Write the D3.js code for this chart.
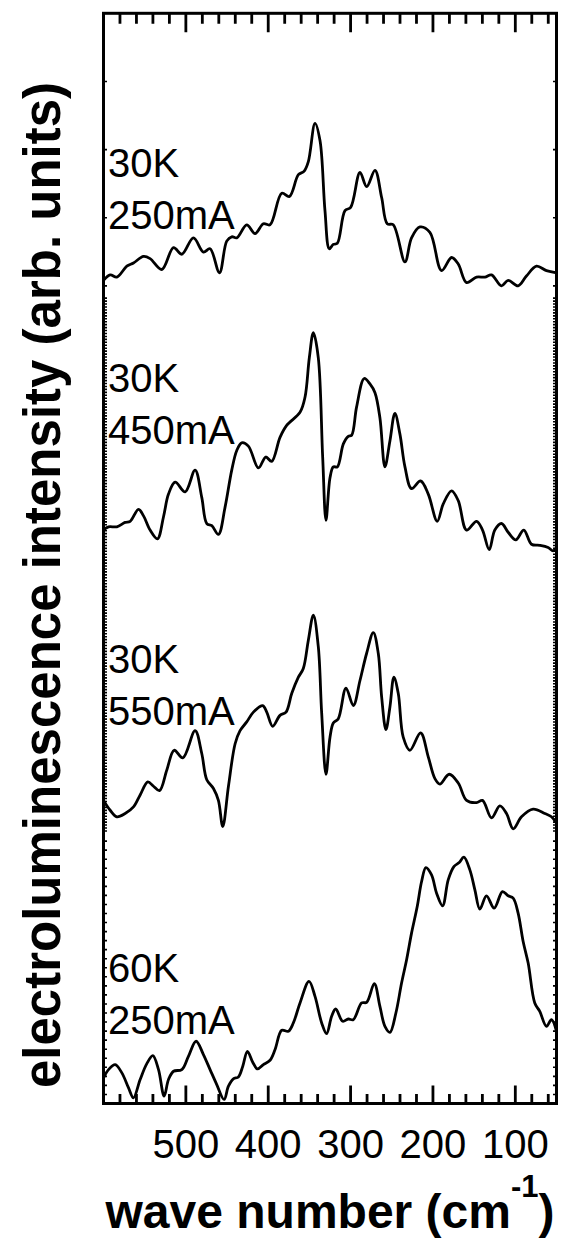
<!DOCTYPE html>
<html>
<head>
<meta charset="utf-8">
<script src="https://cdn.jsdelivr.net/npm/d3@7"></script>
<style>
  html, body { margin: 0; padding: 0; background: #fff; }
  svg { display: block; }
  text { font-family: "Liberation Sans", Arial, Helvetica, sans-serif; }
</style>
</head>
<body>
<svg id="chart" width="565" height="1241"></svg>
<script>
// ---- data (wave number in cm^-1, intensity in stacked arbitrary units) ----
const wn1 = [600,591.9,583.8,571.7,563.6,551.4,543.4,529.2,515.0,504.9,490.8,478.7,470.6,459.2,450.4,444.3,438.2,426.1,416.0,405.9,397.8,383.6,374.3,363.4,356.6,351.3,343.2,337.1,331.1,325.8,321.0,316.1,306.8,299.9,288.6,280.5,270.4,262.3,255.5,248.2,234.0,226.0,215.8,203.7,189.6,177.4,169.3,159.2,147.1,137.0,128.9,116.8,108.7,96.6,86.5,74.3,62.2,50];
const int1 = [75.5,76.0,75.8,76.8,77.1,77.7,77.5,76.5,78.5,77.9,79.4,78.1,78.4,76.2,79.1,79.5,79.4,80.6,79.8,80.7,80.6,83.5,83.2,85.2,85.5,86.4,89.9,88.3,81.9,78.4,78.8,78.9,81.9,82.2,85.4,84.1,85.6,83.1,80.7,80.6,77.2,79.4,80.4,79.9,76.4,77.6,77.0,75.3,75.8,75.8,76.0,75.0,75.5,75.0,75.9,76.8,76.4,76.2];

const wn2 = [600,593.9,583.8,573.7,567.6,557.5,551.4,543.4,534.5,527.2,521.1,513.0,500.9,488.8,480.7,474.6,468.5,460.5,452.4,444.3,438.2,432.2,424.1,411.9,403.0,395.8,385.7,377.6,361.4,355.3,350.1,345.2,339.2,333.9,329.9,325.0,321.0,316.1,308.8,302.8,298.7,292.7,283.4,276.5,270.4,264.4,258.3,252.2,246.2,240.1,234.0,226.0,215.0,205.7,194.8,187.5,177.4,169.3,159.2,147.1,139.8,131.7,124.9,116.8,108.7,99.4,89.7,80.4,70.3,60.2,54.1,50];
const int2 = [52.6,52.9,52.9,53.3,53.4,54.5,53.9,52.6,51.8,53.8,55.9,57.0,56.1,58.1,55.6,53.2,53.0,52.2,54.7,58.1,59.9,60.6,60.3,58.3,59.3,58.9,61.1,62.2,63.4,64.8,68.4,70.7,68.4,59.3,53.5,57.4,58.4,58.4,60.5,61.2,61.3,63.9,66.5,66.0,65.2,62.9,58.4,60.8,63.3,61.4,58.4,56.4,57.1,55.9,53.4,55.0,56.2,55.3,52.6,53.4,52.6,50.8,52.6,53.2,52.4,51.7,52.6,51.3,51.2,51.0,50.7,51.0];

const wn3 = [600,591.9,583.8,573.7,563.6,555.5,546.2,539.3,532.0,523.1,514.2,503.7,488.8,480.7,474.6,466.5,460.5,455.2,448.3,440.2,434.2,426.1,418.0,406.7,401.8,394.6,385.7,378.4,371.5,363.4,357.4,351.3,345.2,339.2,335.1,329.9,325.0,321.0,314.9,305.6,296.7,288.6,280.5,272.4,266.4,262.3,257.1,252.2,247.4,242.1,236.1,228.0,215.0,205.7,197.6,191.6,180.3,169.3,159.2,147.1,139.8,128.9,118.8,110.7,102.6,92.5,78.4,64.2,56.1,50];
const int3 = [27.8,26.9,26.3,26.6,27.2,28.3,29.5,29.1,28.7,30.6,32.4,31.7,34.2,32.1,29.7,28.9,27.8,25.4,29.1,33.0,34.2,35.0,35.9,36.5,35.9,34.6,35.6,35.9,37.6,39.1,39.9,42.5,44.8,41.9,35.8,30.2,33.6,34.9,35.3,38.1,36.5,38.8,41.3,43.2,41.3,37.3,34.3,36.4,39.1,37.6,33.6,32.4,34.0,31.8,29.8,29.3,30.2,29.4,27.8,27.6,27.8,26.2,27.3,26.6,25.2,26.3,27.0,26.6,26.3,25.7];

const wn4 = [600,593.9,585.8,577.7,569.6,563.6,555.5,547.4,540.1,533.2,526.4,521.1,515.0,504.9,496.9,487.6,478.7,470.6,462.5,453.6,448.3,442.3,436.2,430.9,425.3,418.8,413.2,405.9,397.8,391.7,383.6,375.6,369.5,361.4,350.5,343.2,335.1,329.1,323.0,318.1,309.6,302.8,296.7,286.6,280.5,271.2,264.4,258.3,252.2,245.0,238.1,232.0,226.0,219.1,213.8,208.6,201.7,195.6,188.3,181.5,174.6,168.1,162.5,155.2,149.1,143.1,135.0,125.7,115.6,108.7,102.6,96.6,90.5,84.4,76.4,70.3,62.2,56.1,50];
const int4 = [2.35,3.11,3.57,2.81,1.43,0.52,2.20,3.66,4.40,3.11,0.67,2.20,2.96,3.11,4.33,5.71,4.49,3.11,1.74,0.37,1.59,2.26,2.44,3.42,4.79,3.79,3.17,3.57,3.97,4.95,6.72,6.62,7.39,9.22,11.20,9.83,7.39,6.41,8.00,8.67,7.54,7.75,7.69,9.22,9.28,10.99,8.91,7.08,6.53,8.30,11.05,13.19,15.63,18.07,20.36,21.64,20.97,19.29,18.13,20.51,21.73,22.10,22.59,21.43,19.60,17.83,19.05,17.92,19.44,19.05,18.84,17.46,14.86,12.88,9.22,8.45,7.08,7.69,6.62];

const seriesWn  = [wn1, wn2, wn3, wn4];
const seriesInt = [int1, int2, int3, int4];
const labelTemp    = ["30K", "30K", "30K", "60K"];
const labelCurrent = ["250mA", "450mA", "550mA", "250mA"];
const labelLevel   = [85.0, 65.3, 39.5, 11.1];   // intensity level of the first label line's baseline

const xMajorTicks = [500, 400, 300, 200, 100];
const xMinorTicks = [580,560,540,520,480,460,440,420,380,360,340,320,280,260,240,220,180,160,140,120,80,60];
const xDomain = [600, 50];
const yDomain = [0, 100];
const yTicks = [].concat(
  d3.range(0.83, 24.8, 0.83),
  d3.range(25, 74, 0.27),
  [75, 81.25, 87.5, 93.75]
);

// ---- layout ----
const svg = d3.select("#chart");
const pLeft = 103.5, pRight = 556.5, pTop = 13.3, pBottom = 1103.5;

const xs = d3.scaleLinear().domain(xDomain).range([pLeft, pRight]);
const ys = d3.scaleLinear().domain(yDomain).range([pBottom, pTop]);

const defs = svg.append("defs");
defs.append("clipPath").attr("id", "clip")
  .append("rect").attr("x", pLeft).attr("y", pTop)
  .attr("width", pRight - pLeft).attr("height", pBottom - pTop);

// curves
const lineGen = d3.line()
  .x(d => xs(d[0])).y(d => ys(d[1]))
  .curve(d3.curveCatmullRom.alpha(0.5));

const gLines = svg.append("g").attr("clip-path", "url(#clip)");
seriesWn.forEach((w, i) => {
  gLines.append("path")
    .datum(d3.zip(w, seriesInt[i]))
    .attr("d", lineGen)
    .attr("fill", "none")
    .attr("stroke", "#000")
    .attr("stroke-width", 2.8)
    .attr("stroke-linejoin", "round");
});

// frame
svg.append("rect")
  .attr("x", pLeft).attr("y", pTop)
  .attr("width", pRight - pLeft).attr("height", pBottom - pTop)
  .attr("fill", "none").attr("stroke", "#000").attr("stroke-width", 3);

// x ticks (inward, on bottom and top)
const tickPath = d3.path();
function xTickSet(vals, y0, len) {
  vals.forEach(v => { tickPath.moveTo(xs(v), y0); tickPath.lineTo(xs(v), y0 + len); });
}
xTickSet(xMajorTicks, pBottom, -18);
xTickSet(xMinorTicks, pBottom, -9.5);
xTickSet(xMajorTicks, pTop, 19);
xTickSet(xMinorTicks, pTop, 10.5);
svg.append("path").attr("d", tickPath.toString())
  .attr("fill", "none").attr("stroke", "#000").attr("stroke-width", 2.8);

// y ticks (short, inward, both sides)
const yPath = d3.path();
yTicks.forEach(v => {
  yPath.moveTo(pLeft, ys(v)); yPath.lineTo(pLeft + 3.5, ys(v));
  yPath.moveTo(pRight, ys(v)); yPath.lineTo(pRight - 3.5, ys(v));
});
svg.append("path").attr("d", yPath.toString())
  .attr("fill", "none").attr("stroke", "#000").attr("stroke-width", 1.6);

// x tick labels
svg.append("g").selectAll("text").data(xMajorTicks).join("text")
  .attr("x", d => xs(d)).attr("y", 1158)
  .attr("text-anchor", "middle")
  .attr("font-size", 40).attr("fill", "#000")
  .text(d3.format("d"));

// series labels
labelTemp.forEach((t, i) => {
  const by = ys(labelLevel[i]);
  svg.append("text").attr("x", 108).attr("y", by)
    .attr("font-size", 40).attr("fill", "#000").text(t);
  svg.append("text").attr("x", 108).attr("y", by + 52)
    .attr("font-size", 40).attr("fill", "#000").text(labelCurrent[i]);
});

// axis titles
const xt = svg.append("text")
  .attr("x", 330).attr("y", 1228)
  .attr("text-anchor", "middle")
  .attr("font-size", 48).attr("font-weight", "bold").attr("fill", "#000");
xt.append("tspan").text("wave number (cm");
xt.append("tspan").attr("font-size", 31).attr("dy", -31).text("-1");
xt.append("tspan").attr("dy", 31).text(")");

svg.append("text")
  .attr("transform", "translate(60,585) rotate(-90)")
  .attr("text-anchor", "middle")
  .attr("font-size", 51).attr("font-weight", "bold").attr("fill", "#000")
  .text("electroluminescence intensity (arb. units)");
</script>
</body>
</html>
